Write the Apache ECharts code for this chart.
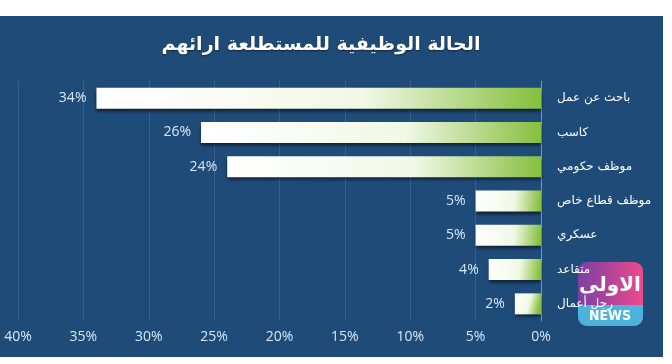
<!DOCTYPE html>
<html><head><meta charset="utf-8">
<script src="https://cdn.jsdelivr.net/npm/echarts@6/dist/echarts.min.js"></script>
<style>html,body{margin:0;padding:0;background:#fff}#c{width:672px;height:364px}</style>
</head><body><div id="c"></div>
<script>
const title = 'الحالة الوظيفية للمستطلعة ارائهم';
const categories = ['باحث عن عمل', 'كاسب', 'موظف حكومي', 'موظف قطاع خاص', 'عسكري', 'متقاعد', 'رجل أعمال'];
const values = [34, 26, 24, 5, 5, 4, 2];
const axisMin = 0, axisMax = 40, axisStep = 5;

const chart = echarts.init(document.getElementById('c'));
const labelColor = '#d9e7f5';
chart.setOption({
  backgroundColor: '#ffffff',
  animation: false,
  graphic: [
    { type: 'rect', z: -10, shape: { x: 0, y: 16, width: 663, height: 341 }, style: { fill: '#1f4b78' } },
    { type: 'text', z: 10, x: 321, y: 45,
      style: { text: title, fill: '#ffffff', font: 'bold 19px "DejaVu Sans"', align: 'center', verticalAlign: 'middle', textShadowColor: 'rgba(0,0,0,0.5)', textShadowBlur: 2, textShadowOffsetY: 1 } },
    { type: 'group', x: 578, y: 262, z: 100, children: [
      { type: 'rect', shape: { x: 0, y: 0, width: 65, height: 64, r: 9 },
        style: { fill: new echarts.graphic.LinearGradient(0, 0, 1, 0, [{ offset: 0, color: '#7a3fa6' }, { offset: 1, color: '#ec4a8c' }]) } },
      { type: 'rect', shape: { x: 0, y: 43, width: 65, height: 21, r: [0, 0, 9, 9] }, style: { fill: '#4cb3dc' } },
      { type: 'text', style: { text: 'الاولى', x: 32, y: 24, align: 'center', verticalAlign: 'middle', fill: '#ffffff', font: 'bold 20px "DejaVu Sans"' } },
      { type: 'text', style: { text: 'NEWS', x: 32, y: 54, align: 'center', verticalAlign: 'middle', fill: '#ffffff', font: 'bold 14px "DejaVu Sans Condensed"' } }
    ] }
  ],
  grid: { left: 18, right: 131, top: 81, bottom: 43, containLabel: false },
  xAxis: {
    type: 'value', inverse: true, min: axisMin, max: axisMax, interval: axisStep,
    axisLine: { show: false }, axisTick: { show: false },
    splitLine: { show: true, lineStyle: { color: 'rgba(255,255,255,0.12)', width: 1 } },
    axisLabel: { color: labelColor, fontSize: 14, fontFamily: 'Open Sans', margin: 9, formatter: v => v + '%' }
  },
  yAxis: {
    type: 'category', data: categories, inverse: true, position: 'right',
    axisLine: { show: true, lineStyle: { color: 'rgba(255,255,255,0.35)', width: 1 } },
    axisTick: { show: false },
    axisLabel: { color: '#ffffff', fontSize: 12, fontFamily: 'DejaVu Sans', margin: 16, align: 'left' }
  },
  series: [{
    type: 'bar', data: values, barWidth: 21,
    itemStyle: {
      color: new echarts.graphic.LinearGradient(0, 0, 1, 0.3, [
        { offset: 0, color: '#ffffff' }, { offset: 0.6, color: '#f1f8e6' }, { offset: 1, color: '#86bf3e' }]),
      shadowColor: 'rgba(0,0,0,0.55)', shadowBlur: 3, shadowOffsetY: 3, shadowOffsetX: 0
    },
    label: { show: true, position: 'left', distance: 10, color: labelColor, fontSize: 14, fontFamily: 'Open Sans', formatter: p => p.value + '%' }
  }]
});
</script></body></html>
